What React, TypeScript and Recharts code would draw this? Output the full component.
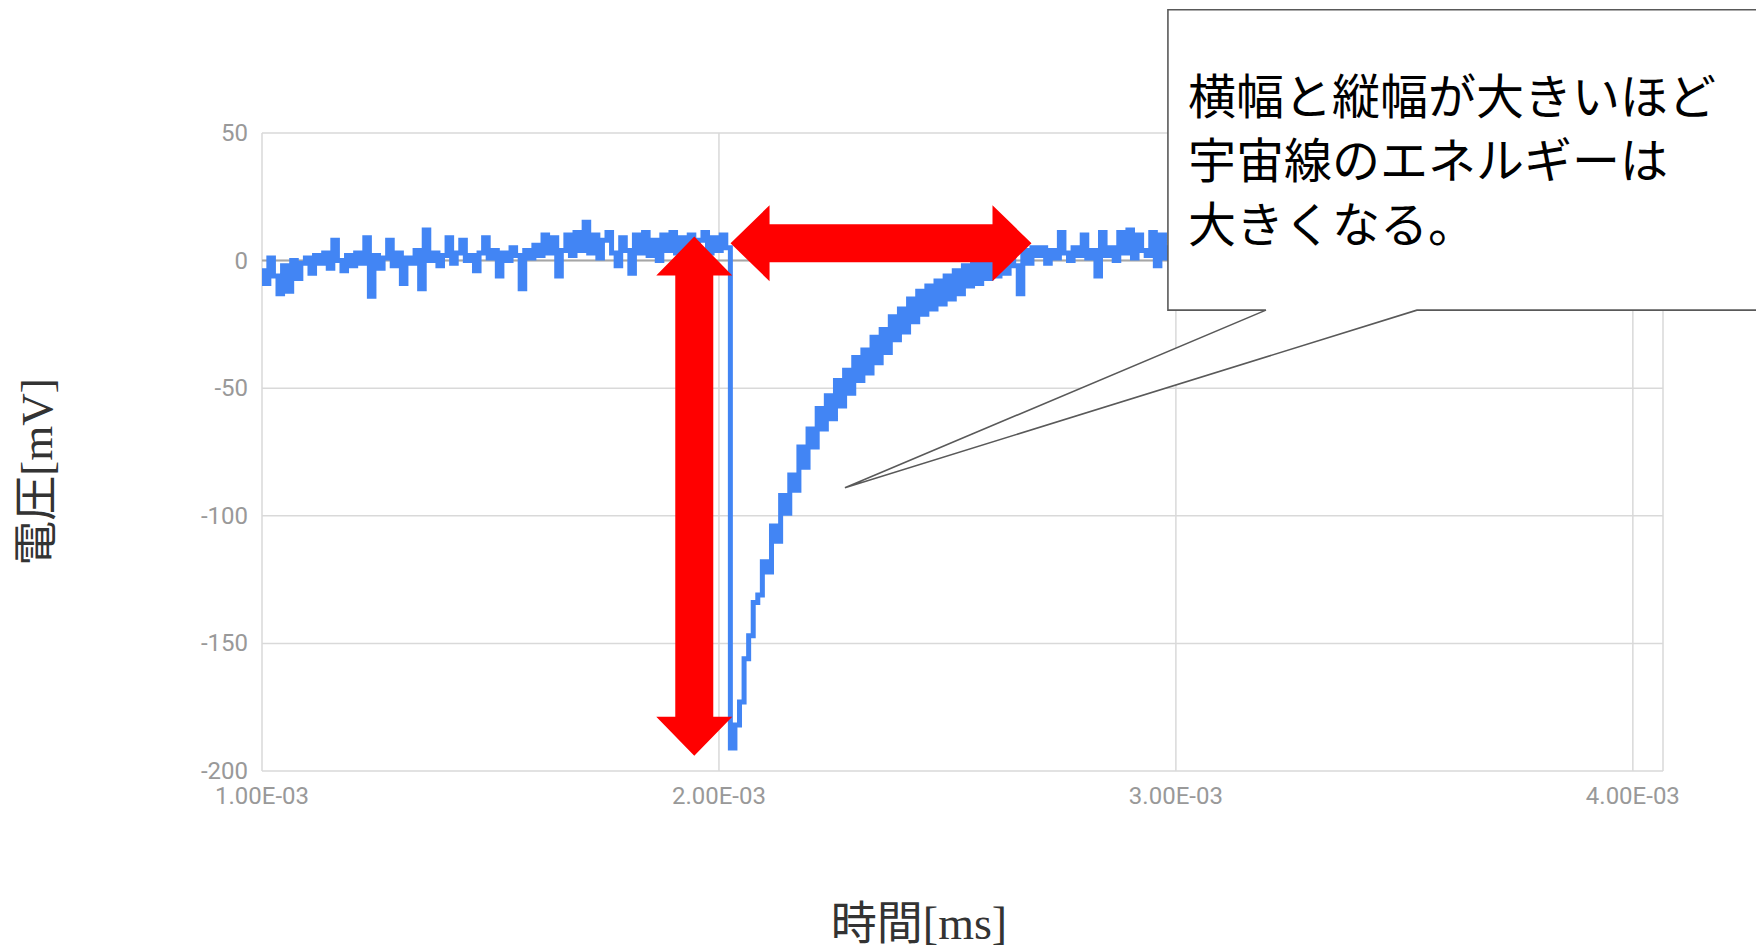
import { LineChart, Line, XAxis, YAxis, CartesianGrid, ReferenceLine, ReferenceDot } from 'recharts';

// Oscilloscope trace of one cosmic-ray pulse. Samples every 0.01E-03 from 1.00E-03.
const T_START = 1.0e-3;
const T_STEP = 1.0e-5;
const T_MAX = 4.066e-3;

const X_TICKS = [1e-3, 2e-3, 3e-3, 4e-3];
const Y_TICKS = [50, 0, -50, -100, -150, -200];

// 1.00E-03 .. 2.02E-03 (baseline noise before the pulse)
const PRE_PULSE_MV = [
  -4, -9, 1, -6, -13, -2, -12, 0, -7, -1,
  1, -5, 2, -1, 3, -3, 8, 0, -4, 2,
  -2, 3, -1, 9, -14, 2, -3, 1, 8, -2,
  3, -9, 1, -1, 4, -11, 12, 0, 3, -2,
  2, 9, -1, 3, 8, 0, 2, -4, 3, 9,
  1, 4, -6, 3, 0, 5, 2, -11, 4, 1,
  6, 2, 10, 3, 9, -6, 4, 10, 2, 11,
  4, 15, 3, 10, 1, 8, 11, 3, -2, 9,
  4, -5, 10, 3, 11, 2, 8, 0, 10, 4,
  11, 3, 9, -3, 10, 2, 8, 11, 3, 9,
  4, 10, 5,
];

// 2.03E-03 .. 2.69E-03 (drop and recovery)
const PULSE_MV = [
  -191, -182, -173, -156, -147, -134, -131, -118, -122, -104,
  -110, -92, -99, -84, -90, -73, -81, -66, -73, -58,
  -66, -53, -62, -47, -57, -43, -52, -38, -47, -35,
  -44, -30, -40, -27, -36, -22, -31, -19, -28, -15,
  -24, -12, -21, -10, -19, -8, -17, -6, -15, -4,
  -13, -2, -10, -1, -9, 0, -7, 2, -6, 3,
  -5, 3, -2, -13, 4, -1, 5,
];

// 2.70E-03 .. 4.06E-03 (baseline after the pulse)
const POST_PULSE_MV = [
  2, 5, -1, 4, 1, 11, 3, 0, 5, 2,
  10, 1, 4, -6, 11, 2, 5, 0, 11, 3,
  12, 1, 10, 4, 2, 11, -2, 10, 1, 5,
  3, 0, 6, 2, 9, 1, 4, -1, 5, 8,
  2, 5, 0, 9, 3, 1, 6, -2, 4, 10,
  1, 5, -2, 7, 2, 4, 0, 11, 3, -1,
  6, 2, 9, -2, 4, 1, 5, 12, 0, 3,
  -2, 6, 3, 10, 1, 4, -3, 7, 2, 5,
  11, 0, 4, 2, -3, 8, 3, 5, -1, 6,
  2, 9, 1, 4, -2, 5, 12, 0, 3, 6,
  -1, 4, 8, 2, 5, -3, 3, 10, 1, 4,
  6, 0, 3, 11, -2, 5, 2, 7, 0, 4,
  3, -1, 9, 2, 5, 1, -3, 6, 4, 10,
  2, 5, 0, 7, 3, -2, 4,
];

// Annotation anchors in data units (time, mV).
const HEIGHT_ARROW = [{ x: 1.946e-3, y: -194 }, { x: 1.946e-3, y: 9.4 }];
const WIDTH_ARROW = [{ x: 2.0254e-3, y: 6.8 }, { x: 2.684e-3, y: 6.8 }];
const CALLOUT_TIP = { x: 2.2757e-3, y: -89 };
const CALLOUT_LINES = ['横幅と縦幅が大きいほど', '宇宙線のエネルギーは', '大きくなる。'];

const X_TITLE = '時間[ms]';
const Y_TITLE = '電圧[mV]';

const BLUE = '#4285f4';
const RED = '#ff0000';
const GRID = '#d9d9d9';
const TICK_GRAY = '#999999';
const SERIF = "'Liberation Serif', 'Noto Sans CJK JP', serif";
const SANS_JP = "'Noto Sans CJK JP', sans-serif";

const samples = [...PRE_PULSE_MV, ...PULSE_MV, ...POST_PULSE_MV].map((mv, i) => ({
  t: T_START + i * T_STEP,
  mv,
}));

function fmtTime(v: number): string {
  return `${(v * 1000).toFixed(2)}E-03`;
}

function XTick(props: { x?: number; y?: number; payload?: { value: number } }) {
  const { x = 0, y = 0, payload } = props;
  return (
    <text x={x} y={y + 25} textAnchor="middle" fontSize={24} fill={TICK_GRAY} fontFamily="Roboto">
      {fmtTime(payload?.value ?? 0)}
    </text>
  );
}

function YTick(props: { x?: number; y?: number; payload?: { value: number } }) {
  const { x = 0, y = 0, payload } = props;
  return (
    <text x={x - 6} y={y} textAnchor="end" dominantBaseline="central" fontSize={24} fill={TICK_GRAY} fontFamily="Roboto">
      {payload?.value}
    </text>
  );
}

// Fat double-headed arrow between the segment's two ends.
function DoubleArrow(props: { x1?: number; y1?: number; x2?: number; y2?: number }) {
  const { x1 = 0, y1 = 0, x2 = 0, y2 = 0 } = props;
  const shaft = 38;
  const head = 76;
  const len = 39;
  const d = Math.hypot(x2 - x1, y2 - y1) || 1;
  const ux = (x2 - x1) / d;
  const uy = (y2 - y1) / d;
  const nx = -uy;
  const ny = ux;
  const b1 = [x1 + ux * len, y1 + uy * len];
  const b2 = [x2 - ux * len, y2 - uy * len];
  const p = (c: number[], k: number) => `${c[0] + nx * k},${c[1] + ny * k}`;
  const pts = [
    `${x1},${y1}`,
    p(b1, head / 2),
    p(b1, shaft / 2),
    p(b2, shaft / 2),
    p(b2, head / 2),
    `${x2},${y2}`,
    p(b2, -head / 2),
    p(b2, -shaft / 2),
    p(b1, -shaft / 2),
    p(b1, -head / 2),
  ].join(' ');
  return <polygon points={pts} fill={RED} />;
}

// Speech-bubble callout whose pointer ends at the dot position.
function Callout(props: { cx?: number; cy?: number }) {
  const { cx = 0, cy = 0 } = props;
  const left = cx + 323;
  const right = cx + 940;
  const top = cy - 478;
  const bottom = cy - 177.6;
  const path = [
    `M${left},${top}`,
    `L${right},${top}`,
    `L${right},${bottom}`,
    `L${cx + 572},${bottom}`,
    `L${cx},${cy}`,
    `L${cx + 421},${bottom}`,
    `L${left},${bottom}`,
    'Z',
  ].join(' ');
  return (
    <g>
      <path d={path} fill="#ffffff" stroke="#595959" strokeWidth={1.6} />
      {CALLOUT_LINES.map((line, i) => (
        <text key={line} x={left + 20} y={top + 104 + i * 64} fontSize={48} fill="#000000" fontFamily={SANS_JP}>
          {line}
        </text>
      ))}
    </g>
  );
}

export default function App() {
  return (
    <div style={{ position: 'absolute', left: 0, top: 0, width: 1756, height: 949, background: '#ffffff' }}>
      <LineChart width={1756} height={949} data={samples} margin={{ top: 133, right: 93, bottom: 138, left: 182 }}>
        <CartesianGrid stroke={GRID} strokeWidth={1.5} />
        <XAxis
          dataKey="t"
          type="number"
          domain={[T_START, T_MAX]}
          ticks={X_TICKS}
          allowDataOverflow
          axisLine={false}
          tickLine={false}
          height={40}
          tick={<XTick />}
        />
        <YAxis
          type="number"
          domain={[-200, 50]}
          ticks={Y_TICKS}
          axisLine={false}
          tickLine={false}
          width={80}
          tick={<YTick />}
        />
        <ReferenceLine y={0} stroke="#a6a6a6" strokeWidth={2} />
        <Line
          dataKey="mv"
          type="step"
          stroke={BLUE}
          strokeWidth={5}
          dot={false}
          activeDot={false}
          isAnimationActive={false}
        />
        <ReferenceLine segment={HEIGHT_ARROW} ifOverflow="visible" shape={<DoubleArrow />} zIndex={1500} />
        <ReferenceLine segment={WIDTH_ARROW} ifOverflow="visible" shape={<DoubleArrow />} zIndex={1500} />
        <ReferenceDot x={CALLOUT_TIP.x} y={CALLOUT_TIP.y} ifOverflow="visible" shape={<Callout />} zIndex={1600} />
      </LineChart>
      <svg width={1756} height={949} style={{ position: 'absolute', left: 0, top: 0, pointerEvents: 'none' }}>
        <text x={919} y={923} textAnchor="middle" dominantBaseline="central" fontSize={46} fill="#333333" fontFamily={SERIF}>
          {X_TITLE}
        </text>
        <text
          x={37}
          y={472}
          textAnchor="middle"
          dominantBaseline="central"
          fontSize={45}
          fill="#333333"
          fontFamily={SERIF}
          transform="rotate(-90 37 472)"
        >
          {Y_TITLE}
        </text>
      </svg>
    </div>
  );
}
